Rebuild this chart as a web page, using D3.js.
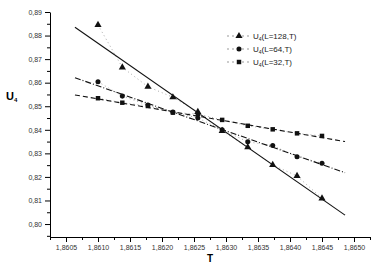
<!DOCTYPE html>
<html>
<head>
<meta charset="utf-8">
<script src="https://cdn.jsdelivr.net/npm/d3@7"></script>
<style>
  body { margin: 0; background: #fff; }
  svg { font-family: "Liberation Sans", Arial, sans-serif; }
  .tick text { fill: #333; }
</style>
</head>
<body>
<svg id="chart" width="374" height="265"></svg>
<script>
// 1: DATA
const temps = [1.8610, 1.86138, 1.86178, 1.86217, 1.86256, 1.86294, 1.86334, 1.86373, 1.86411, 1.86450];
const u128 = [0.8845, 0.8665, 0.8583, 0.8538, 0.8476, 0.8395, 0.8326, 0.8251, 0.8204, 0.8109];
const u64 = [0.8604, 0.8543, 0.8505, 0.8475, 0.8450, 0.8400, 0.8349, 0.8333, 0.8286, 0.8258];
const u32 = [0.8534, 0.8515, 0.8501, 0.8473, 0.8467, 0.8442, 0.8417, 0.8402, 0.8385, 0.8374];

// fitted straight lines, end points
const fitT = [1.86064, 1.86486];
const fit128 = [0.8835, 0.8038];
const fit64 = [0.8621, 0.8218];
const fit32 = [0.8548, 0.8350];

const xTicks = [1.8605, 1.8610, 1.8615, 1.8620, 1.8625, 1.8630, 1.8635, 1.8640, 1.8645, 1.8650];
const yTicks = [0.80, 0.81, 0.82, 0.83, 0.84, 0.85, 0.86, 0.87, 0.88, 0.89];
const legendLabels = ["128", "64", "32"];

// 2: SCALES
const svg = d3.select("#chart");
const x = d3.scaleLinear().domain([1.86025, 1.86525]).range([50, 370]);
const y = d3.scaleLinear().domain([0.7945, 0.89]).range([237, 12]);

const comma = f => v => d3.format(f)(v).replace(".", ",");

// 3: AXES
const xMinor = xTicks.map(t => t - 0.00025).concat([1.86525]);
const yMinor = yTicks.map(t => t - 0.005);

svg.append("g")
    .attr("transform", "translate(0,237)")
    .call(d3.axisBottom(x).tickValues(xMinor).tickSize(3).tickFormat(""))
    .call(g => g.select(".domain").remove());

svg.append("g")
    .attr("transform", "translate(0,237)")
    .call(d3.axisBottom(x).tickValues(xTicks).tickSize(5).tickSizeOuter(0).tickPadding(3).tickFormat(comma(".4f")))
    .call(g => g.selectAll("text").attr("font-size", 7));

svg.append("g")
    .attr("transform", "translate(50,0)")
    .call(d3.axisLeft(y).tickValues(yMinor).tickSize(3).tickFormat(""))
    .call(g => g.select(".domain").remove());

svg.append("g")
    .attr("transform", "translate(50,0)")
    .call(d3.axisLeft(y).tickValues(yTicks).tickSize(5).tickSizeOuter(0).tickPadding(3).tickFormat(comma(".2f")))
    .call(g => g.selectAll("text").attr("font-size", 7));

// 4: PLOT DATA
const series = [
    { vals: u128, fit: fit128, dash: null, sym: d3.symbolTriangle, size: 22 },
    { vals: u64, fit: fit64, dash: "6,2,1,2", sym: d3.symbolCircle, size: 20 },
    { vals: u32, fit: fit32, dash: "5,3", sym: d3.symbolSquare, size: 20 }
];

const line = d3.line().x(d => x(d[0])).y(d => y(d[1]));

series.forEach(s => {
    // faint dotted line through the points
    svg.append("path")
        .datum(temps.map((t, i) => [t, s.vals[i]]))
        .attr("fill", "none")
        .attr("stroke", "#aaa")
        .attr("stroke-width", 1)
        .attr("stroke-dasharray", "1,3")
        .attr("d", line);

    // fit line
    svg.append("path")
        .datum(fitT.map((t, i) => [t, s.fit[i]]))
        .attr("fill", "none")
        .attr("stroke", "#111")
        .attr("stroke-width", 1.1)
        .attr("stroke-dasharray", s.dash)
        .attr("d", line);

    svg.selectAll(null)
        .data(temps.map((t, i) => [t, s.vals[i]]))
        .join("path")
        .attr("transform", d => `translate(${x(d[0])},${y(d[1])})`)
        .attr("d", d3.symbol(s.sym, s.size))
        .attr("fill", "#111");
});

// 5: LABELS
svg.append("text")
    .attr("x", 210)
    .attr("y", 262)
    .attr("text-anchor", "middle")
    .attr("font-size", 10)
    .attr("font-weight", "bold")
    .text("T");

const yl = svg.append("text")
    .attr("x", 6)
    .attr("y", 100)
    .attr("font-size", 11)
    .attr("font-weight", "bold");
yl.append("tspan").text("U");
yl.append("tspan").attr("font-size", 6).attr("dy", 2).text("4");

// 6: LEGEND
const leg = svg.append("g");
series.forEach((s, i) => {
    const ly = 36 + i * 13;
    leg.append("line")
        .attr("x1", 227).attr("x2", 249)
        .attr("y1", ly).attr("y2", ly)
        .attr("stroke", "#999")
        .attr("stroke-dasharray", "2,3");
    leg.append("path")
        .attr("transform", `translate(239,${ly})`)
        .attr("d", d3.symbol(s.sym, s.size))
        .attr("fill", "#111");
    const t = leg.append("text")
        .attr("x", 253)
        .attr("y", ly + 3)
        .attr("font-size", 8)
        .attr("fill", "#222");
    t.append("tspan").text("U");
    t.append("tspan").attr("font-size", 5).attr("dy", 2).text("4");
    t.append("tspan").attr("dy", -2).text(`(L=${legendLabels[i]},T)`);
});
</script>
</body>
</html>
